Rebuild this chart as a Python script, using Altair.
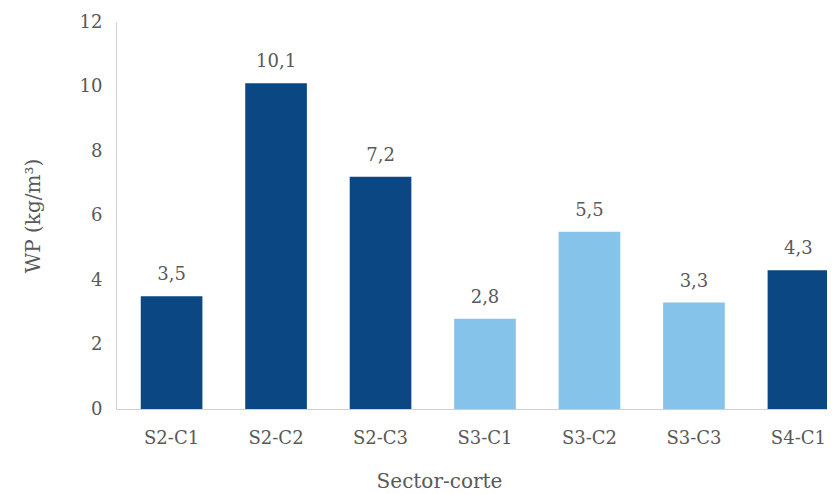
import altair as alt
import pandas as pd

categories = ["S2-C1", "S2-C2", "S2-C3", "S3-C1", "S3-C2", "S3-C3", "S4-C1"]
values = [3.5, 10.1, 7.2, 2.8, 5.5, 3.3, 4.3]
labels = ["3,5", "10,1", "7,2", "2,8", "5,5", "3,3", "4,3"]
groups = ["S2", "S2", "S2", "S3", "S3", "S3", "S4"]

df = pd.DataFrame({"cat": categories, "val": values, "lab": labels, "grp": groups})

FONT = "DejaVu Serif"
GRAY = "#595959"

xscale = alt.Scale(paddingInner=0.41, paddingOuter=0.237, range=[0, 738])

x = alt.X("cat:N", sort=categories, title="Sector-corte", scale=xscale,
          axis=alt.Axis(labelAngle=0, ticks=False, labelPadding=20, titlePadding=24,
                        domainColor="#d0d0d0", labelFont=FONT, titleFont=FONT,
                        labelFontSize=18, titleFontSize=20, labelColor=GRAY,
                        titleColor=GRAY, titleFontWeight="normal",
                        titleX=323))

bars = alt.Chart(df).mark_bar().encode(
    x=x,
    y=alt.Y("val:Q", title="WP (kg/m³)", scale=alt.Scale(domain=[0, 12]),
            axis=alt.Axis(values=[0, 2, 4, 6, 8, 10, 12], grid=False, ticks=False,
                          labelPadding=14, domainColor="#d0d0d0", labelFont=FONT,
                          titleFont=FONT, labelFontSize=18, titleFontSize=20,
                          labelColor=GRAY, titleColor=GRAY, titleFontWeight="normal",
                          titlePadding=36)),
    color=alt.Color("grp:N", scale=alt.Scale(domain=["S2", "S3", "S4"],
                                             range=["#0a4783", "#86c3ea", "#0a4783"]),
                    legend=None),
)

text = alt.Chart(df).mark_text(baseline="bottom", dy=-12, font=FONT, fontSize=18,
                               color=GRAY).encode(
    x=alt.X("cat:N", sort=categories, scale=xscale),
    y="val:Q",
    text="lab:N",
)

chart = (bars + text).properties(
    width=711, height=387,
    autosize=alt.AutoSizeParams(type="none"),
    padding={"left": 108, "top": 14, "right": 0, "bottom": 85},
).configure_view(stroke=None)

chart.save("out.html", embed_options={"renderer": "svg", "actions": False})
